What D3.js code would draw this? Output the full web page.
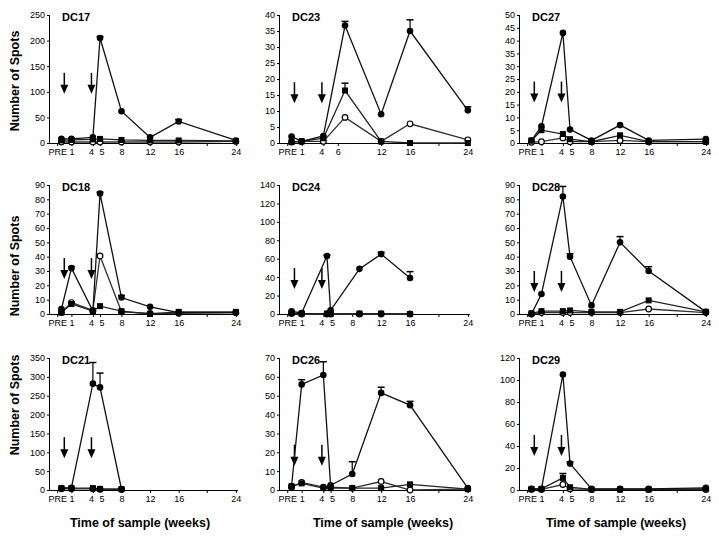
<!DOCTYPE html>
<html><head><meta charset="utf-8">
<script src="https://cdn.jsdelivr.net/npm/d3@7"></script>
<style>body{margin:0;background:#fff}svg{display:block}</style>
</head><body>
<svg id="c" width="719" height="537"></svg>
<script>
// ---- data ----
const panelNames = ["DC17","DC23","DC27","DC18","DC24","DC28","DC21","DC26","DC29"];
const yMaxes = [250,40,50,90,140,90,350,70,120];
const ySteps = [50,5,5,10,20,10,50,10,20];
const xTickLabels = ["PRE","1","4","5","8","12","16","24"];
const xTickWeeks = [-1,1,4,5,8,12,16,24];
const xTickLabelsDC23 = ["PRE","1","4","6","12","16","24"];
const xTickWeeksDC23 = [-1,1,4,6,12,16,24];
const arrowWeeks = [0,3.8];
const arrowTops = [137,19,24,39,50,30,140,24,50];

const DC17_weeks = [-0.4,1,4,5,8,12,16,24];
const DC17_circle = [8,8,11,205,62,11,42,5];
const DC17_circleHi = [null,null,null,208,null,null,46,null];
const DC17_square = [5,6,7,8,6,5,5,4];
const DC17_open = [2,2,2,2,2,2,2,3];

const DC23_weeks = [-0.4,1,4,7,12,16,24];
const DC23_circle = [2,0.5,2.2,36.7,9,35,10.2];
const DC23_circleHi = [null,null,null,38,null,38.5,11.3];
const DC23_square = [0.3,0.5,1.5,16.4,0.5,0,0];
const DC23_squareHi = [null,null,null,18.7,null,null,null];
const DC23_open = [0.3,0.5,0.5,8,0.5,6,1];

const DC27_weeks = [-0.4,1,4,5,8,12,16,24];
const DC27_circle = [1,6.5,43,5.3,1,7,1,1.5];
const DC27_square = [1,5,3.5,1.5,0.5,3,0.5,0.5];
const DC27_open = [0.3,0.5,2,0.5,0.5,1,0.5,0.5];

const DC18_weeks = [-0.4,1,4,5,8,12,16,24];
const DC18_circle = [3.5,32,2,84,11.5,5,1,1];
const DC18_circleHi = [null,33,null,85,13,null,null,null];
const DC18_square = [1,7,2,5.5,2,0,1.5,1.5];
const DC18_open = [1,8,2.5,40.5,1.5,0.5,0.5,1];

const DC24_weeks = [-0.4,1,4.5,5,9,12,16];
const DC24_circle = [3,1,63,4,49,65,39];
const DC24_circleHi = [null,null,64,null,null,67,46];
const DC24_square = [1,0.5,0.5,0,0.5,0.5,0];
const DC24_open = [0.5,0,0,0,0,0,0];

const DC28_weeks = [-0.4,1,4,5,8,12,16,24];
const DC28_circle = [0,14,82,40,6,50,30,1.5];
const DC28_circleHi = [null,null,89,42,null,54,33,null];
const DC28_square = [0.5,2,2,2.5,1.5,1.5,9.5,1.5];
const DC28_open = [0,1,1,1,1,1,3.5,1];

const DC21_weeks = [-0.4,1,4,5,8];
const DC21_circle = [5,6,282,272,2];
const DC21_circleHi = [null,null,338,310,null];
const DC21_square = [5,5,5,3,2];
const DC21_open = [3,3,3,2,2];

const DC26_weeks = [-0.4,1,4,5,8,12,16,24];
const DC26_circle = [2,56,61,2.5,8.5,51.5,45,1];
const DC26_circleHi = [null,58.5,68,null,15,54.5,47,null];
const DC26_square = [2,3.5,1,1,1,1,3,0.5];
const DC26_open = [1.5,4,1.5,1.5,1,4.5,0,0.5];

const DC29_weeks = [-0.4,1,4,5,8,12,16,24];
const DC29_circle = [1,1,105,24,1,1,1,2];
const DC29_circleHi = [null,null,null,25.5,null,null,null,null];
const DC29_square = [1,1,11,2.5,0.5,0.5,0.5,1];
const DC29_squareHi = [null,null,15,null,null,null,null,null];
const DC29_open = [0.5,0.5,5,1,0.5,0.5,0.5,0.5];

const panels = [
  {weeks:DC17_weeks, circle:DC17_circle, circleHi:DC17_circleHi, square:DC17_square, open:DC17_open},
  {weeks:DC23_weeks, circle:DC23_circle, circleHi:DC23_circleHi, square:DC23_square, squareHi:DC23_squareHi, open:DC23_open},
  {weeks:DC27_weeks, circle:DC27_circle, square:DC27_square, open:DC27_open},
  {weeks:DC18_weeks, circle:DC18_circle, circleHi:DC18_circleHi, square:DC18_square, open:DC18_open},
  {weeks:DC24_weeks, circle:DC24_circle, circleHi:DC24_circleHi, square:DC24_square, open:DC24_open},
  {weeks:DC28_weeks, circle:DC28_circle, circleHi:DC28_circleHi, square:DC28_square, open:DC28_open},
  {weeks:DC21_weeks, circle:DC21_circle, circleHi:DC21_circleHi, square:DC21_square, open:DC21_open},
  {weeks:DC26_weeks, circle:DC26_circle, circleHi:DC26_circleHi, square:DC26_square, open:DC26_open},
  {weeks:DC29_weeks, circle:DC29_circle, circleHi:DC29_circleHi, square:DC29_square, squareHi:DC29_squareHi, open:DC29_open}
];

// ---- layout ----
const colX = [[50,238],[280,470],[520,708]];
const rowY = [[15,143],[185,314],[358,490]];
const svg = d3.select("#c");
const FONT = "Arial, 'Liberation Sans', sans-serif";

panels.forEach((p,i)=>{
  const c = i%3, r = Math.floor(i/3);
  const x = d3.scaleLinear().domain([-2,24.3]).range(colX[c]);
  const y = d3.scaleLinear().domain([0,yMaxes[i]]).range([rowY[r][1],rowY[r][0]]);
  const g = svg.append("g");

  // y axis
  const yAxis = d3.axisLeft(y).tickValues(d3.range(0,yMaxes[i]+0.001,ySteps[i])).tickSize(3).tickPadding(2);
  const ya = g.append("g").attr("transform",`translate(${colX[c][0]},0)`).call(yAxis);
  ya.select(".domain").attr("d",`M-0.5,${rowY[r][0]}V${rowY[r][1]}`);
  ya.selectAll("text").attr("font-family",FONT).attr("font-size",9).attr("fill","#000");

  // x axis
  const isDC23 = panelNames[i]==="DC23";
  const tw = isDC23 ? xTickWeeksDC23 : xTickWeeks;
  const tl = isDC23 ? xTickLabelsDC23 : xTickLabels;
  const xAxis = d3.axisBottom(x).tickValues(tw).tickFormat((d,k)=>tl[k]).tickSize(3).tickPadding(3);
  const xa = g.append("g").attr("transform",`translate(0,${rowY[r][1]})`).call(xAxis);
  xa.select(".domain").attr("d",`M${colX[c][0]},0.5H${colX[c][1]}`);
  xa.selectAll("text").attr("font-family",FONT).attr("font-size",9).attr("fill","#000")
    .attr("dx",(d)=> d===4 ? -2 : (d===5 ? 1.5 : 0));
  xa.append("line").attr("x1",x(20)).attr("x2",x(20)).attr("y1",0).attr("y2",3).attr("stroke","#000");

  // title
  g.append("text").attr("x",colX[c][0]+12).attr("y",rowY[r][0]+6)
    .attr("font-family",FONT).attr("font-weight","bold").attr("font-size",11).text(panelNames[i]);

  // arrows
  arrowWeeks.forEach(w=>{
    const ax = x(w), ay = y(arrowTops[i]);
    g.append("line").attr("x1",ax).attr("x2",ax).attr("y1",ay).attr("y2",ay+14).attr("stroke","#000").attr("stroke-width",1.5);
    g.append("path").attr("d",`M${ax-4},${ay+12}L${ax+4},${ay+12}L${ax},${ay+21}Z`).attr("fill","#000");
  });

  const line = (vals)=> d3.line().x((d,k)=>x(p.weeks[k])).y(d=>y(d))(vals);
  const series = [
    {vals:p.open, hi:p.openHi, kind:"open", color:"#333"},
    {vals:p.square, hi:p.squareHi, kind:"square", color:"#222"},
    {vals:p.circle, hi:p.circleHi, kind:"circle", color:"#111"}
  ];
  series.forEach(s=>{
    g.append("path").attr("d",line(s.vals)).attr("fill","none").attr("stroke",s.color).attr("stroke-width",1.3);
  });
  series.forEach(s=>{
    if(s.hi){
      s.hi.forEach((h,k)=>{
        if(h==null) return;
        const px = x(p.weeks[k]);
        g.append("line").attr("x1",px).attr("x2",px).attr("y1",y(s.vals[k])).attr("y2",y(h)).attr("stroke","#000").attr("stroke-width",1.2);
        g.append("line").attr("x1",px-3.5).attr("x2",px+3.5).attr("y1",y(h)).attr("y2",y(h)).attr("stroke","#000").attr("stroke-width",1.5);
      });
    }
    s.vals.forEach((v,k)=>{
      const px = x(p.weeks[k]), py = y(v);
      if(s.kind==="circle") g.append("circle").attr("cx",px).attr("cy",py).attr("r",3.3).attr("fill","#000");
      else if(s.kind==="square") g.append("rect").attr("x",px-3).attr("y",py-3).attr("width",6).attr("height",6).attr("fill","#000");
      else g.append("circle").attr("cx",px).attr("cy",py).attr("r",2.8).attr("fill","#fff").attr("stroke","#000").attr("stroke-width",1.2);
    });
  });
});

// axis titles
const rowCenters = [81,266,405];
rowCenters.forEach(cy=>{
  svg.append("text").attr("transform",`translate(19,${cy}) rotate(-90)`).attr("text-anchor","middle")
    .attr("font-family",FONT).attr("font-weight","bold").attr("font-size",12.5).text("Number of Spots");
});
[140,383,616].forEach(cx=>{
  svg.append("text").attr("x",cx).attr("y",527).attr("text-anchor","middle")
    .attr("font-family",FONT).attr("font-weight","bold").attr("font-size",12.5).text("Time of sample (weeks)");
});
</script>
</body></html>
